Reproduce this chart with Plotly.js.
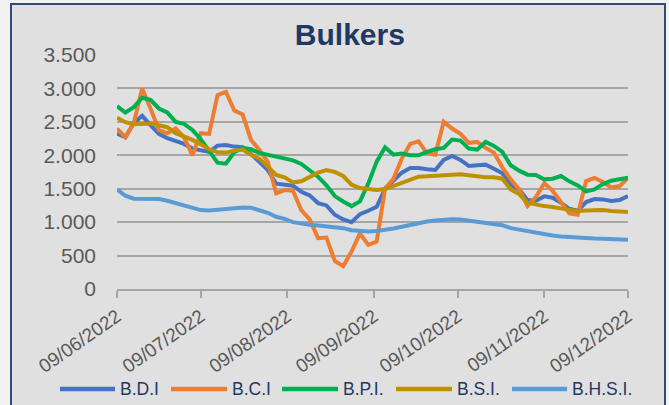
<!DOCTYPE html>
<html><head><meta charset="utf-8">
<script src="https://cdn.plot.ly/plotly-3.0.1.min.js"></script>
<style>
html,body{margin:0;padding:0;background:#f2f2f2;width:669px;height:405px;overflow:hidden;}
#frame{position:absolute;left:10px;top:3px;width:656px;height:420px;border:2px solid #2f4b7c;background:#e0e0e0;box-sizing:border-box;}
#chart{position:absolute;left:0;top:0;width:669px;height:405px;}
</style></head><body>
<div id="frame"></div><div id="chart"></div>
<script>
const dates = [
'2022-06-09','2022-06-12','2022-06-15','2022-06-18','2022-06-21','2022-06-24','2022-06-27','2022-06-30',
'2022-07-03','2022-07-06','2022-07-09','2022-07-12','2022-07-15','2022-07-18','2022-07-21','2022-07-24','2022-07-27','2022-07-30',
'2022-08-02','2022-08-05','2022-08-08','2022-08-11','2022-08-14','2022-08-17','2022-08-20','2022-08-23','2022-08-26','2022-08-29',
'2022-09-01','2022-09-04','2022-09-07','2022-09-10','2022-09-13','2022-09-16','2022-09-19','2022-09-22','2022-09-25','2022-09-28',
'2022-10-01','2022-10-04','2022-10-07','2022-10-10','2022-10-13','2022-10-16','2022-10-19','2022-10-22','2022-10-25','2022-10-28','2022-10-31',
'2022-11-03','2022-11-06','2022-11-09','2022-11-12','2022-11-15','2022-11-18','2022-11-21','2022-11-24','2022-11-27','2022-11-30',
'2022-12-03','2022-12-06','2022-12-09'];

const bdi = [2325,2270,2480,2590,2450,2320,2255,2210,
 2170,2100,2080,2050,2145,2155,2130,2120,2020,1900,
 1780,1575,1565,1545,1455,1400,1285,1250,1110,1040,
 1000,1120,1170,1230,1500,1620,1740,1810,1810,1790,
 1780,1930,1990,1930,1840,1850,1860,1800,1730,1560,1490,
 1330,1320,1385,1365,1290,1200,1170,1300,1345,1340,
 1315,1330,1390];
const bci = [2400,2270,2480,3000,2700,2375,2330,2400,
 2270,2000,2330,2320,2900,2950,2670,2610,2230,2080,
 1900,1430,1480,1470,1180,1040,760,770,420,340,
 560,830,660,710,1500,1650,1950,2170,2210,2030,
 2010,2500,2400,2320,2185,2200,2110,2040,1820,1640,1490,
 1240,1375,1580,1470,1310,1130,1110,1615,1660,1600,
 1520,1540,1660];
const bpi = [2735,2640,2720,2860,2830,2700,2640,2500,
 2470,2380,2240,2070,1890,1875,2045,2110,2090,2035,
 2010,1970,1945,1925,1870,1770,1680,1550,1390,1310,
 1240,1310,1580,1905,2120,2010,2025,2000,2000,2050,
 2090,2110,2235,2220,2100,2085,2200,2140,2050,1850,1770,
 1710,1705,1640,1650,1690,1610,1550,1460,1490,1570,
 1620,1650,1665];
const bsi = [2560,2495,2465,2475,2475,2450,2420,2330,
 2285,2230,2165,2090,2045,2040,2070,2085,2010,1950,
 1830,1705,1670,1595,1610,1670,1740,1780,1750,1690,
 1560,1510,1490,1480,1495,1540,1590,1630,1680,1685,
 1695,1715,1710,1715,1695,1680,1670,1670,1650,1490,1420,
 1290,1260,1240,1225,1200,1185,1165,1175,1180,1180,
 1165,1155,1150];
const bhsi = [1490,1395,1350,1345,1345,1345,1320,1285,
 1255,1210,1180,1175,1185,1195,1215,1220,1215,1175,
 1140,1080,1050,1000,975,960,950,935,920,910,
 880,865,860,868,880,905,930,960,985,1010,
 1025,1035,1045,1040,1025,1000,985,970,955,910,885,
 865,845,820,800,785,775,765,760,755,752,
 748,742,735];

const seriesNames = ['B.D.I','B.C.I','B.P.I.','B.S.I.','B.H.S.I.'];
const seriesValues = [bdi, bci, bpi, bsi, bhsi];
const seriesColors = ['#4472c4','#ed7d31','#00b050','#bf9000','#5b9bd5'];

const tickDates = ['2022-06-09','2022-07-09','2022-08-09','2022-09-09','2022-10-09','2022-11-09','2022-12-09'];
const tickLabels = ['09/06/2022','09/07/2022','09/08/2022','09/09/2022','09/10/2022','09/11/2022','09/12/2022'];
const yTicks = [0,500,1000,1500,2000,2500,3000,3500];

const traces = seriesValues.map((v,i)=>({
  type:'scatter', mode:'lines', x:dates, y:v, name:seriesNames[i],
  line:{color:seriesColors[i], width:4}, hoverinfo:'skip'
}));

// plot area in pixels
const L=117, R=628, T=55, B=289;
const px2x = p => (p-L)/(R-L);
const py2y = p => (B-p)/(B-T);
const legendLines = [[60,115],[171,227],[282,338],[396,452],[512,567]];
const legendY = 389;
const shapes = [], annotations = [];
legendLines.forEach((ln,i)=>{
  shapes.push({type:'line', xref:'paper', yref:'paper', x0:px2x(ln[0]), x1:px2x(ln[1]),
    y0:py2y(legendY), y1:py2y(legendY), line:{color:seriesColors[i], width:4.5}});
  annotations.push({xref:'paper', yref:'paper', x:px2x(ln[1]+3), y:py2y(legendY),
    xanchor:'left', yanchor:'middle', showarrow:false, text:seriesNames[i],
    font:{family:'Liberation Sans, Arial', size:17.5, color:'#203864'}});
});

const layout = {
  width:669, height:405,
  margin:{l:L, r:669-R, t:T, b:405-B, pad:0},
  paper_bgcolor:'rgba(0,0,0,0)', plot_bgcolor:'rgba(0,0,0,0)',
  separators:',.',
  showlegend:false,
  hovermode:false,
  title:{text:'Bulkers', x:0.523, xref:'container', xanchor:'center', y:0.915, yref:'container', yanchor:'middle',
    font:{family:'Liberation Sans, Arial', size:30, weight:'bold', color:'#203864'}},
  xaxis:{type:'date', range:['2022-06-09','2022-12-09'], tickmode:'array', tickvals:tickDates, ticktext:tickLabels,
    tickangle:-35, showgrid:false, showline:true, linecolor:'#a6a6a6', linewidth:2,
    ticks:'outside', ticklen:7, tickwidth:2, tickcolor:'#a6a6a6', zeroline:false,
    tickfont:{family:'Liberation Sans, Arial', size:19, color:'#595959'}},
  yaxis:{range:[0,3500], tickmode:'array', tickvals:yTicks, tickformat:',d', showgrid:true, gridcolor:'#a6a6a6', gridwidth:2,
    showline:false, zeroline:false, ticks:'', ticklabelstandoff:20,
    tickfont:{family:'Liberation Sans, Arial', size:21, color:'#595959'}},
  shapes:shapes, annotations:annotations
};
Plotly.newPlot('chart', traces, layout, {displayModeBar:false, staticPlot:true});
</script>
</body></html>
